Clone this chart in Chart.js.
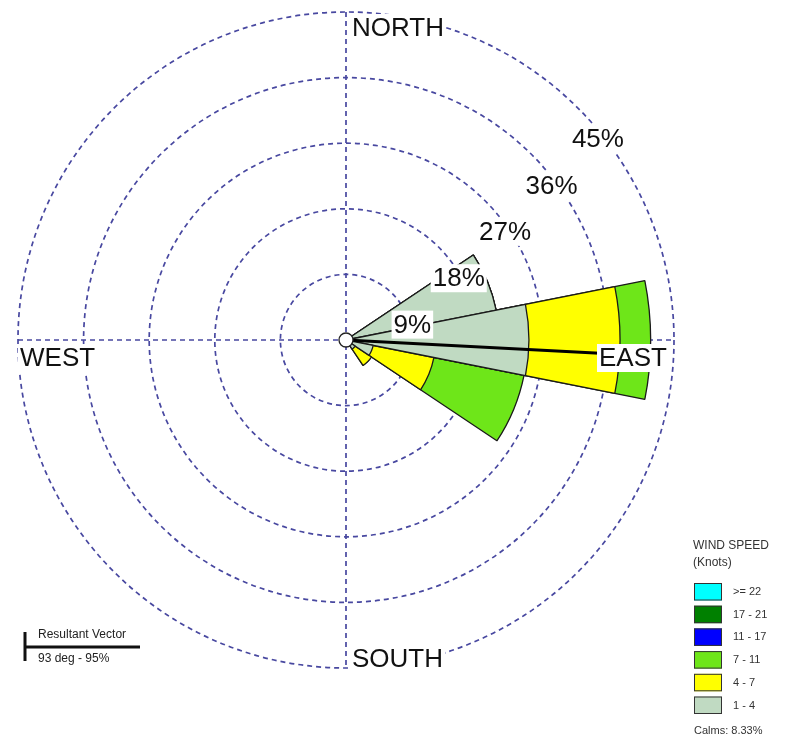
<!DOCTYPE html>
<html>
<head>
<meta charset="utf-8">
<script src="https://cdn.jsdelivr.net/npm/chart.js@4.4.1/dist/chart.umd.min.js"></script>
<style>
  html, body { margin:0; padding:0; background:#fff; }
  #wrap { position:relative; width:791px; height:744px; }
</style>
</head>
<body>
<div id="wrap"><canvas id="rose"></canvas></div>
<script>
const directions = ['N','NNE','NE','ENE','E','ESE','SE','SSE','S','SSW','SW','WSW','W','WNW','NW','NNW'];
const speed1to4  = [0, 0, 0, 21.0, 25.1, 3.8, 1.5, 0, 0, 0, 0, 0, 0, 0, 0, 0];
const speed4to7  = [0, 0, 0, 0,    12.5, 8.5, 2.7, 0, 0, 0, 0, 0, 0, 0, 0, 0];
const speed7to11 = [0, 0, 0, 0,    4.2, 12.6, 0,   0, 0, 0, 0, 0, 0, 0, 0, 0];
const ringTicks = [9, 18, 27, 36, 45];
const compassLabels = ['NORTH', 'EAST', 'SOUTH', 'WEST'];
const speedClasses = ['>= 22', '17 - 21', '11 - 17', '7 - 11', '4 - 7', '1 - 4'];
const speedColors  = ['#00ffff', '#008000', '#0000ff', '#6ee619', '#ffff00', '#c0dac2'];
const calmsPct = 8.33;
const resultantDeg = 93;
const resultantPct = 95;

const FONT = '"Liberation Sans", Arial, sans-serif';
const GRID = '#4848a0';

// stacked wedges: cumulative radii, inner dataset drawn on top
const cum1 = speed1to4.slice();
const cum2 = cum1.map((v, i) => v + speed4to7[i]);
const cum3 = cum2.map((v, i) => v + speed7to11[i]);

function textBox(ctx, txt, x, y, align) {
  const w = ctx.measureText(txt).width;
  const left = align === 'center' ? x - w / 2 : x;
  ctx.fillStyle = '#fff';
  ctx.fillRect(left - 2, y - 14, w + 4, 28);
  ctx.fillStyle = '#111';
  ctx.textAlign = align;
  ctx.fillText(txt, x, y + 1);
}

const roseDecor = {
  id: 'roseDecor',
  beforeDatasetsDraw(chart) {
    const s = chart.scales.r, ctx = chart.ctx;
    const cx = s.xCenter, cy = s.yCenter, R = s.drawingArea;
    ctx.save();
    ctx.strokeStyle = GRID; ctx.lineWidth = 1.7; ctx.setLineDash([5, 4]);
    ctx.beginPath();
    ctx.moveTo(cx, cy - R); ctx.lineTo(cx, cy + R);
    ctx.moveTo(cx - R, cy); ctx.lineTo(cx + R, cy);
    ctx.stroke();
    ctx.restore();
  },
  afterDatasetsDraw(chart) {
    const s = chart.scales.r, ctx = chart.ctx;
    const cx = s.xCenter, cy = s.yCenter, R = s.drawingArea;
    const a = resultantDeg * Math.PI / 180, L = R * resultantPct / 100;
    ctx.save();
    ctx.strokeStyle = '#000'; ctx.lineWidth = 3;
    ctx.beginPath();
    ctx.moveTo(cx, cy);
    ctx.lineTo(cx + L * Math.sin(a), cy - L * Math.cos(a));
    ctx.stroke();
    // calms circle
    ctx.fillStyle = '#fff'; ctx.strokeStyle = '#222'; ctx.lineWidth = 1.3;
    ctx.beginPath(); ctx.arc(cx, cy, 7, 0, Math.PI * 2); ctx.fill(); ctx.stroke();
    ctx.restore();
  },
  afterDraw(chart) {
    const s = chart.scales.r, ctx = chart.ctx;
    const cx = s.xCenter, cy = s.yCenter, R = s.drawingArea;
    ctx.save();
    ctx.font = '26px ' + FONT;
    ctx.textBaseline = 'middle';
    // ring labels along the NE diagonal
    ringTicks.forEach(v => {
      const r = s.getDistanceFromCenterForValue(v);
      textBox(ctx, v + '%', cx + r * 0.707 + 20, cy - r * 0.707 + 31, 'center');
    });
    // compass words
    textBox(ctx, compassLabels[0], cx + 6, cy - R + 16, 'left');
    textBox(ctx, compassLabels[1], cx + R - 75, cy + 18, 'left');
    textBox(ctx, compassLabels[2], cx + 6, cy + R - 9, 'left');
    textBox(ctx, compassLabels[3], cx - R + 2, cy + 18, 'left');

    // wind speed legend
    const lx = 694, ly = 583;
    ctx.textAlign = 'left';
    ctx.fillStyle = '#333';
    ctx.font = '12px ' + FONT;
    ctx.fillText('WIND SPEED', lx - 1, 546);
    ctx.fillText('(Knots)', lx - 1, 563);
    ctx.font = '11px ' + FONT;
    speedClasses.forEach((lab, i) => {
      const y = ly + i * 22.7;
      ctx.fillStyle = speedColors[i];
      ctx.fillRect(lx, y, 28, 17.5);
      ctx.strokeStyle = '#333'; ctx.lineWidth = 1;
      ctx.strokeRect(lx + 0.5, y + 0.5, 27, 16.5);
      ctx.fillStyle = '#333';
      ctx.fillText(lab, lx + 39, y + 9);
    });
    ctx.fillText('Calms: ' + calmsPct.toFixed(2) + '%', lx, 731);

    // resultant vector key
    ctx.strokeStyle = '#111'; ctx.lineWidth = 3;
    ctx.beginPath();
    ctx.moveTo(25, 632); ctx.lineTo(25, 661);
    ctx.moveTo(25, 647); ctx.lineTo(140, 647);
    ctx.stroke();
    ctx.fillStyle = '#222';
    ctx.font = '12px ' + FONT;
    ctx.fillText('Resultant Vector', 38, 635);
    ctx.fillText(resultantDeg + ' deg - ' + resultantPct + '%', 38, 659);
    ctx.restore();
  }
};

const ds = (label, data, color) => ({
  label, data, backgroundColor: color, borderColor: '#1a1a1a', borderWidth: 1.3
});

new Chart(document.getElementById('rose'), {
  type: 'polarArea',
  data: {
    labels: directions,
    datasets: [
      ds(speedClasses[5], cum1, speedColors[5]),
      ds(speedClasses[4], cum2, speedColors[4]),
      ds(speedClasses[3], cum3, speedColors[3])
    ]
  },
  options: {
    responsive: true,
    maintainAspectRatio: false,
    animation: false,
    layout: { padding: { left: 18, top: 12, right: 117, bottom: 76 } },
    plugins: { legend: { display: false }, tooltip: { enabled: false } },
    scales: {
      r: {
        min: 0, max: 45,
        startAngle: -11.25,
        ticks: { display: false, stepSize: 9 },
        grid: { color: GRID, lineWidth: 1.7, circular: true },
        border: { dash: [5, 4] },
        angleLines: { display: false },
        pointLabels: { display: false }
      }
    }
  },
  plugins: [roseDecor]
});
</script>
</body>
</html>
